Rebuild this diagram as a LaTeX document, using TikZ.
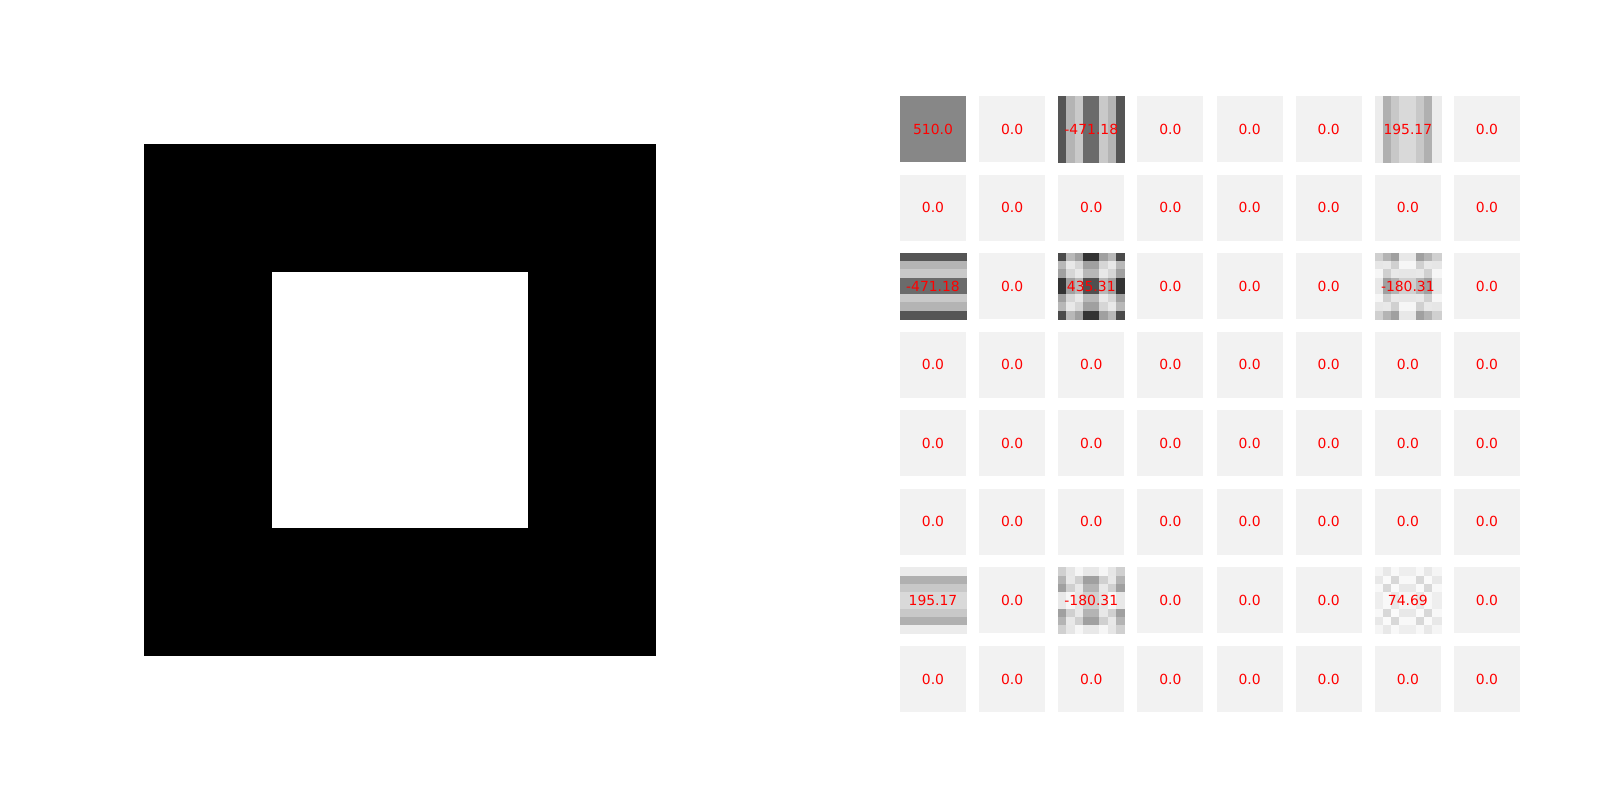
\documentclass[tikz,border=0pt]{standalone}
\usepackage{fontspec}
\setmainfont{DejaVu Sans}
\usetikzlibrary{calc}
\definecolor{tilegray}{RGB}{242,242,242}

% 8x8 block of a tile; #1 tile corner, #2 upper-left quadrant (4x4 gray levels), mirrored
\newcommand\dctblock[2]{%
  \foreach \i in {0,...,7}{\foreach \j in {0,...,7}{
    \pgfmathtruncatemacro\qi{min(\i,7-\i)}
    \pgfmathtruncatemacro\qj{min(\j,7-\j)}
    \pgfmathtruncatemacro\g{{#2}[4*\qi+\qj]}
    \definecolor{cellc}{RGB}{\g,\g,\g}
    \filldraw[fill=cellc,draw=cellc,line width=.3pt] ($(#1)+(\j*8.25,\i*8.25)$) rectangle ++(8.25,8.25);
  }}}

\begin{document}
\begin{tikzpicture}[x=1pt,y=-1pt,
    coef/.style={text=red,font=\fontsize{13.9}{16}\selectfont,inner sep=0pt}]
  \useasboundingbox (0,0) rectangle (1600,800);
  % input block
  \fill[black] (144,144) rectangle (656,656);
  \fill[white] (272,272) rectangle (528,528);
  % coefficient tiles
  \foreach \r/\row in {0/{510.0,0.0,-471.18,0.0,0.0,0.0,195.17,0.0},
                       1/{0.0,0.0,0.0,0.0,0.0,0.0,0.0,0.0},
                       2/{-471.18,0.0,435.31,0.0,0.0,0.0,-180.31,0.0},
                       3/{0.0,0.0,0.0,0.0,0.0,0.0,0.0,0.0},
                       4/{0.0,0.0,0.0,0.0,0.0,0.0,0.0,0.0},
                       5/{0.0,0.0,0.0,0.0,0.0,0.0,0.0,0.0},
                       6/{195.17,0.0,-180.31,0.0,0.0,0.0,74.69,0.0},
                       7/{0.0,0.0,0.0,0.0,0.0,0.0,0.0,0.0}}{
    \foreach \v [count=\c from 0] in \row{
      \coordinate (t-\r-\c) at (900+79.14*\c,96+78.57*\r);
      \fill[tilegray] (t-\r-\c) rectangle ++(66,66);
    }}
  \fill[black!47] (t-0-0) rectangle ++(66,66);
  \dctblock{t-0-2}{85,180,201,107,85,180,201,107,85,180,201,107,85,180,201,107}
  \dctblock{t-2-0}{85,85,85,85,180,180,180,180,201,201,201,201,107,107,107,107}
  \dctblock{t-0-6}{236,176,200,217,236,176,200,217,236,176,200,217,236,176,200,217}
  \dctblock{t-6-0}{236,236,236,236,176,176,176,176,200,200,200,200,217,217,217,217}
  \dctblock{t-2-2}{74,184,160,51,184,232,214,160,160,214,232,184,51,160,184,80}
  \dctblock{t-2-6}{208,180,160,232,230,232,208,246,246,208,232,230,232,160,180,208}
  \dctblock{t-6-2}{208,230,246,232,180,232,208,160,160,208,232,180,232,246,230,208}
  \dctblock{t-6-6}{245,232,248,238,232,250,216,248,248,216,250,232,238,248,232,245}
  % values
  \foreach \r/\row in {0/{510.0,0.0,-471.18,0.0,0.0,0.0,195.17,0.0},
                       1/{0.0,0.0,0.0,0.0,0.0,0.0,0.0,0.0},
                       2/{-471.18,0.0,435.31,0.0,0.0,0.0,-180.31,0.0},
                       3/{0.0,0.0,0.0,0.0,0.0,0.0,0.0,0.0},
                       4/{0.0,0.0,0.0,0.0,0.0,0.0,0.0,0.0},
                       5/{0.0,0.0,0.0,0.0,0.0,0.0,0.0,0.0},
                       6/{195.17,0.0,-180.31,0.0,0.0,0.0,74.69,0.0},
                       7/{0.0,0.0,0.0,0.0,0.0,0.0,0.0,0.0}}{
    \foreach \v [count=\c from 0] in \row{
      \node[coef] (v-\r-\c) at ($(t-\r-\c)+(33,33)$) {\v};
    }}
\end{tikzpicture}
\end{document}
